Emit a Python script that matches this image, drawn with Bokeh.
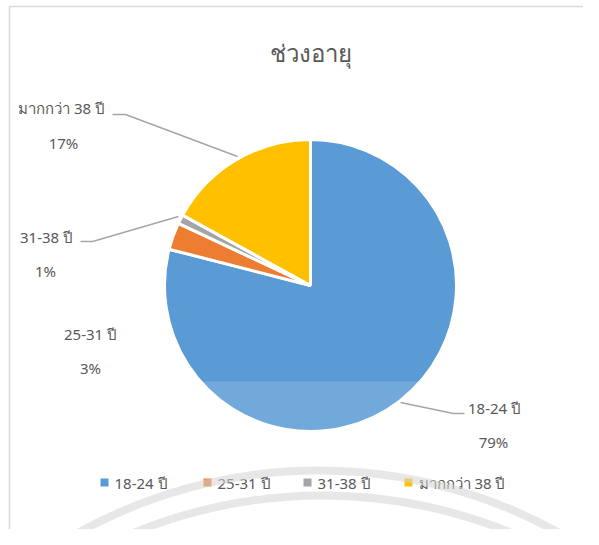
import numpy as np
from bokeh.plotting import figure
from bokeh.models import Range1d
from bokeh.core.properties import value
from bokeh.embed import file_html
from bokeh.resources import INLINE

# ---- data ----
categories = ["18-24 ปี", "25-31 ปี", "31-38 ปี", "มากกว่า 38 ปี"]
percents = [79, 3, 1, 17]
colors = ["#5B9BD5", "#ED7D31", "#A5A5A5", "#FFC000"]
title_text = "ช่วงอายุ"

W, H = 583, 529
FONT = "Noto Sans"
TXT = "#595959"


def X(px):
    return px


def Y(py):
    return H - py


p = figure(width=W, height=H, output_backend="svg", toolbar_location=None,
           x_range=Range1d(0, W), y_range=Range1d(0, H), min_border=0)
p.axis.visible = False
p.grid.visible = False
p.outline_line_color = None
p.background_fill_color = "white"
p.border_fill_color = "white"

# chart frame (left and top edges)
p.segment(x0=[X(9), X(9)], y0=[Y(545), Y(6)], x1=[X(9), X(599)], y1=[Y(6), Y(6)],
          line_color="#d9d9d9", line_width=1.5)

# title
p.text(x=[X(310)], y=[Y(52)], text=[title_text], text_font=value(FONT),
       text_font_size="24px", text_color=TXT, text_align="center", text_baseline="middle")

# pie
cx, cy, r = X(310), Y(285), 146
fr = np.array(percents, dtype=float) / sum(percents)
cum = np.concatenate([[0], np.cumsum(fr)])
start = np.pi / 2 - 2 * np.pi * cum[1:]
end = np.pi / 2 - 2 * np.pi * cum[:-1]
p.wedge(x=cx, y=cy, radius=r, start_angle=start, end_angle=end,
        fill_color=colors, line_color="white", line_width=3)

# light band of the scanned watermark over the lower pie
p.quad(left=X(150), right=X(470), bottom=Y(440), top=Y(381),
       fill_color="white", fill_alpha=0.14, line_color=None)

# leader lines
lead_x = [[X(112), X(125), X(237)], [X(80), X(92), X(178)], [X(400), X(453), X(464)]]
lead_y = [[Y(114), Y(114), Y(156)], [Y(241), Y(241), Y(216)], [Y(402), Y(413), Y(413)]]
p.multi_line(xs=lead_x, ys=lead_y, line_color="#a6a6a6", line_width=1.5)

# data labels (order: category index)
lab_name_pos = [(494, 407), (90, 333), (46, 236), (61, 107)]
lab_pct_pos = [(493, 441), (90, 367), (45, 270), (63, 142)]
p.text(x=[X(a) for a, b in lab_name_pos], y=[Y(b) for a, b in lab_name_pos], text=categories,
       text_font=value(FONT), text_font_size="15px", text_color=TXT,
       text_align="center", text_baseline="middle")
p.text(x=[X(a) for a, b in lab_pct_pos], y=[Y(b) for a, b in lab_pct_pos],
       text=[f"{v}%" for v in percents],
       text_font=value(FONT), text_font_size="15px", text_color=TXT,
       text_align="center", text_baseline="middle")

# legend
leg_sq_x = [104, 207, 307, 408]
leg_y = 482
p.scatter(x=[X(v) for v in leg_sq_x], y=[Y(leg_y)] * 4, marker="square", size=8,
          fill_color=colors, line_color=None)
p.text(x=[X(v + 10) for v in leg_sq_x], y=[Y(leg_y)] * 4, text=categories,
       text_font=value(FONT), text_font_size="15px", text_color=TXT,
       text_align="left", text_baseline="middle")

# faint watermark arcs
p.arc(x=[X(318), X(322)], y=[Y(965), Y(991)], radius=[495, 496],
      start_angle=np.pi / 2 - 0.62, end_angle=np.pi / 2 + 0.62,
      line_color="#d4d4d4", line_width=8, line_alpha=0.55)

open("out.html", "w").write(file_html(p, INLINE))
